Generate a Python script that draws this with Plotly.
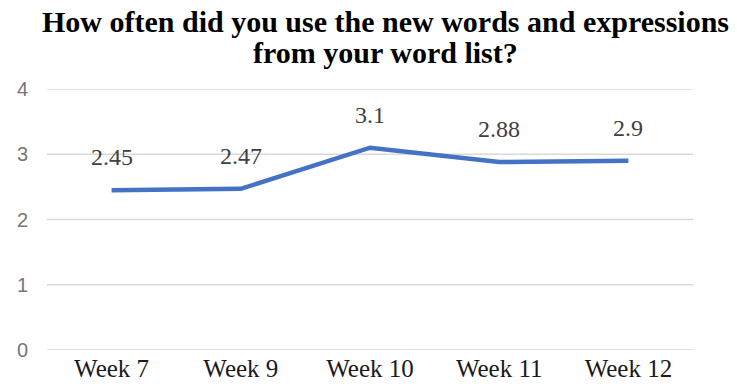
import plotly.graph_objects as go

# Survey: average frequency of using new vocabulary, by week
weeks = ["Week 7", "Week 9", "Week 10", "Week 11", "Week 12"]
scores = [2.45, 2.47, 3.1, 2.88, 2.9]
score_labels = ["2.45", "2.47", "3.1", "2.88", "2.9"]
y_ticks = [0, 1, 2, 3, 4]
title_lines = ["How often did you use the new words and expressions",
               "from your word list?"]

W, H = 737, 384
M_L, M_R, M_T, M_B = 47, 44, 89, 34
plot_h = H - M_T - M_B

fig = go.Figure()
fig.add_trace(go.Scatter(
    x=weeks, y=scores, mode="lines",
    line=dict(color="#4472C4", width=4.5),
    hoverinfo="skip", showlegend=False,
))

annotations = []
for wk, val, lab in zip(weeks, scores, score_labels):
    annotations.append(dict(
        x=wk, y=val, xref="x", yref="y", text=lab, showarrow=False,
        yanchor="middle", yshift=33,
        font=dict(family="Liberation Serif", size=24, color="#404040"),
    ))

# two-line title, centred slightly right of the plot area
for line, ypix in zip(title_lines, [21, 53]):
    annotations.append(dict(
        x=(386 - M_L) / (W - M_L - M_R), y=(H - M_B - ypix) / plot_h,
        xref="paper", yref="paper", text="<b>%s</b>" % line,
        showarrow=False, xanchor="center", yanchor="middle",
        font=dict(family="Liberation Serif", size=30, color="#000000"),
    ))

# horizontal gridlines, including the ones on the plot edges
shapes = [dict(type="line", xref="paper", yref="y", x0=0, x1=1, y0=v, y1=v,
               line=dict(color="#d9d9d9", width=1.3), layer="below")
          for v in y_ticks]

fig.update_layout(
    width=W, height=H,
    margin=dict(l=M_L, r=M_R, t=M_T, b=M_B, pad=0),
    paper_bgcolor="white", plot_bgcolor="white",
    annotations=annotations, shapes=shapes,
    xaxis=dict(
        type="category", range=[-0.5, len(weeks) - 0.5], automargin=False,
        showgrid=False, zeroline=False, showline=False, ticks="",
        ticklabelstandoff=1,
        tickfont=dict(family="Liberation Serif", size=25, color="#1a1a1a"),
    ),
    yaxis=dict(
        range=[0, 4], tickvals=y_ticks, ticktext=[str(v) for v in y_ticks],
        automargin=False, showgrid=False, zeroline=False, showline=False,
        ticks="", ticklabelstandoff=18,
        tickfont=dict(family="Liberation Sans", size=20, color="#767676"),
    ),
)

fig.write_html("out.html")
